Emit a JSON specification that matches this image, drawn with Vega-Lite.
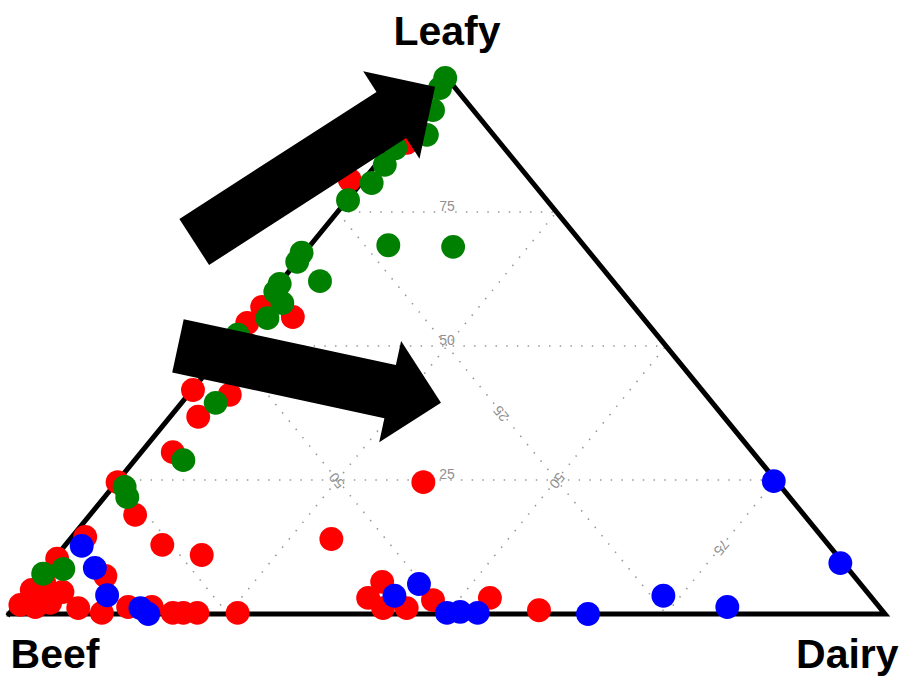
{
  "$schema": "https://vega.github.io/schema/vega-lite/v6.json",
  "width": 876,
  "height": 536,
  "autosize": {"type": "none"},
  "padding": {"left": 9, "top": 78, "right": 17, "bottom": 63},
  "background": "white",
  "config": {"view": {"stroke": null}},
  "datasets": {
    "grid": [
      {"x": 0.125, "y": 0.25, "x2": 0.875, "y2": 0.25},
      {"x": 0.25, "y": 0.5, "x2": 0.75, "y2": 0.5},
      {"x": 0.375, "y": 0.75, "x2": 0.625, "y2": 0.75},
      {"x": 0.375, "y": 0.75, "x2": 0.75, "y2": 0},
      {"x": 0.25, "y": 0.5, "x2": 0.5, "y2": 0},
      {"x": 0.125, "y": 0.25, "x2": 0.25, "y2": 0},
      {"x": 0.25, "y": 0, "x2": 0.625, "y2": 0.75},
      {"x": 0.5, "y": 0, "x2": 0.75, "y2": 0.5},
      {"x": 0.75, "y": 0, "x2": 0.875, "y2": 0.25}
    ],
    "leafyLabels": [
      {"label": "25", "x": 0.5, "y": 0.25},
      {"label": "50", "x": 0.5, "y": 0.5},
      {"label": "75", "x": 0.5, "y": 0.75}
    ],
    "beefLabels": [
      {"label": "25", "x": 0.5625, "y": 0.375},
      {"label": "50", "x": 0.375, "y": 0.25}
    ],
    "dairyLabels": [
      {"label": "25", "x": 0.4375, "y": 0.375},
      {"label": "50", "x": 0.625, "y": 0.25},
      {"label": "75", "x": 0.8125, "y": 0.125}
    ],
    "triangle": [
      {"i": 1, "x": 0, "y": 0},
      {"i": 2, "x": 1, "y": 0},
      {"i": 3, "x": 0.5, "y": 1},
      {"i": 4, "x": 0, "y": 0}
    ],
    "points": [
      {"group": "red", "x": 0.389, "y": 0.810},
      {"group": "red", "x": 0.454, "y": 0.879},
      {"group": "red", "x": 0.289, "y": 0.573},
      {"group": "red", "x": 0.324, "y": 0.554},
      {"group": "red", "x": 0.272, "y": 0.543},
      {"group": "red", "x": 0.210, "y": 0.418},
      {"group": "red", "x": 0.252, "y": 0.409},
      {"group": "red", "x": 0.216, "y": 0.368},
      {"group": "red", "x": 0.187, "y": 0.302},
      {"group": "red", "x": 0.124, "y": 0.246},
      {"group": "red", "x": 0.144, "y": 0.185},
      {"group": "red", "x": 0.175, "y": 0.129},
      {"group": "red", "x": 0.220, "y": 0.110},
      {"group": "red", "x": 0.087, "y": 0.144},
      {"group": "red", "x": 0.055, "y": 0.103},
      {"group": "red", "x": 0.110, "y": 0.071},
      {"group": "red", "x": 0.026, "y": 0.045},
      {"group": "red", "x": 0.013, "y": 0.017},
      {"group": "red", "x": 0.030, "y": 0.013},
      {"group": "red", "x": 0.047, "y": 0.021},
      {"group": "red", "x": 0.061, "y": 0.041},
      {"group": "red", "x": 0.040, "y": 0.060},
      {"group": "red", "x": 0.079, "y": 0.011},
      {"group": "red", "x": 0.106, "y": 0.002},
      {"group": "red", "x": 0.136, "y": 0.013},
      {"group": "red", "x": 0.163, "y": 0.013},
      {"group": "red", "x": 0.187, "y": 0.002},
      {"group": "red", "x": 0.199, "y": 0.002},
      {"group": "red", "x": 0.215, "y": 0.002},
      {"group": "red", "x": 0.261, "y": 0.002},
      {"group": "red", "x": 0.473, "y": 0.246},
      {"group": "red", "x": 0.368, "y": 0.140},
      {"group": "red", "x": 0.426, "y": 0.060},
      {"group": "red", "x": 0.410, "y": 0.030},
      {"group": "red", "x": 0.427, "y": 0.011},
      {"group": "red", "x": 0.454, "y": 0.011},
      {"group": "red", "x": 0.484, "y": 0.026},
      {"group": "red", "x": 0.549, "y": 0.030},
      {"group": "red", "x": 0.605, "y": 0.007},
      {"group": "blue", "x": 0.083, "y": 0.127},
      {"group": "blue", "x": 0.098, "y": 0.086},
      {"group": "blue", "x": 0.112, "y": 0.035},
      {"group": "blue", "x": 0.150, "y": 0.011},
      {"group": "blue", "x": 0.159, "y": 0.000},
      {"group": "blue", "x": 0.440, "y": 0.034},
      {"group": "blue", "x": 0.468, "y": 0.056},
      {"group": "blue", "x": 0.500, "y": 0.002},
      {"group": "blue", "x": 0.515, "y": 0.004},
      {"group": "blue", "x": 0.535, "y": 0.002},
      {"group": "blue", "x": 0.661, "y": 0.000},
      {"group": "blue", "x": 0.747, "y": 0.034},
      {"group": "blue", "x": 0.820, "y": 0.013},
      {"group": "blue", "x": 0.873, "y": 0.248},
      {"group": "blue", "x": 0.949, "y": 0.095},
      {"group": "green", "x": 0.498, "y": 1.000},
      {"group": "green", "x": 0.492, "y": 0.981},
      {"group": "green", "x": 0.484, "y": 0.940},
      {"group": "green", "x": 0.477, "y": 0.894},
      {"group": "green", "x": 0.441, "y": 0.869},
      {"group": "green", "x": 0.429, "y": 0.838},
      {"group": "green", "x": 0.414, "y": 0.804},
      {"group": "green", "x": 0.387, "y": 0.772},
      {"group": "green", "x": 0.433, "y": 0.688},
      {"group": "green", "x": 0.507, "y": 0.685},
      {"group": "green", "x": 0.334, "y": 0.674},
      {"group": "green", "x": 0.329, "y": 0.657},
      {"group": "green", "x": 0.355, "y": 0.621},
      {"group": "green", "x": 0.309, "y": 0.616},
      {"group": "green", "x": 0.304, "y": 0.601},
      {"group": "green", "x": 0.312, "y": 0.580},
      {"group": "green", "x": 0.295, "y": 0.552},
      {"group": "green", "x": 0.261, "y": 0.521},
      {"group": "green", "x": 0.236, "y": 0.394},
      {"group": "green", "x": 0.199, "y": 0.287},
      {"group": "green", "x": 0.132, "y": 0.237},
      {"group": "green", "x": 0.135, "y": 0.218},
      {"group": "green", "x": 0.039, "y": 0.075},
      {"group": "green", "x": 0.062, "y": 0.084}
    ],
    "titles": [
      {"label": "Leafy", "x": 0.5, "y": 1.0616},
      {"label": "Beef", "x": 0.0525, "y": -0.1007},
      {"label": "Dairy", "x": 0.957, "y": -0.1007}
    ]
  },
  "encoding": {
    "x": {"field": "x", "type": "quantitative", "scale": {"domain": [0, 1], "nice": false, "zero": false}, "axis": null},
    "y": {"field": "y", "type": "quantitative", "scale": {"domain": [0, 1], "nice": false, "zero": false}, "axis": null}
  },
  "layer": [
    {
      "data": {"name": "grid"},
      "mark": {"type": "rule", "color": "#999999", "strokeWidth": 1.6, "strokeDash": [1.5, 9.2]},
      "encoding": {"x2": {"field": "x2"}, "y2": {"field": "y2"}}
    },
    {
      "data": {"name": "leafyLabels"},
      "mark": {"type": "text", "font": "Liberation Sans", "fontSize": 14, "color": "#909090", "align": "center", "baseline": "alphabetic", "dy": -1},
      "encoding": {"text": {"field": "label"}}
    },
    {
      "data": {"name": "beefLabels"},
      "mark": {"type": "text", "font": "Liberation Sans", "fontSize": 14, "color": "#909090", "align": "center", "baseline": "middle", "angle": 230.7},
      "encoding": {"text": {"field": "label"}}
    },
    {
      "data": {"name": "dairyLabels"},
      "mark": {"type": "text", "font": "Liberation Sans", "fontSize": 14, "color": "#909090", "align": "center", "baseline": "middle", "angle": 129.3},
      "encoding": {"text": {"field": "label"}}
    },
    {
      "data": {"name": "triangle"},
      "mark": {"type": "line", "color": "black", "strokeWidth": 5, "strokeJoin": "miter", "strokeCap": "square"},
      "encoding": {"order": {"field": "i", "type": "quantitative"}}
    },
    {
      "data": {"name": "points"},
      "mark": {"type": "circle", "size": 570, "opacity": 1},
      "encoding": {
        "color": {"field": "group", "type": "nominal", "scale": {"domain": ["red", "blue", "green"], "range": ["#ff0000", "#0000ff", "#008000"]}, "legend": null}
      }
    },
    {
      "data": {"values": [{"x": 0.3489, "y": 0.8389}]},
      "mark": {"type": "point", "filled": true, "opacity": 1, "color": "black", "strokeWidth": 0, "size": 40000, "angle": -32.8, "shape": "M-1.4325,-0.274 L0.9125,-0.274 L0.9125,-0.52 L1.4325,0 L0.9125,0.52 L0.9125,0.274 L-1.4325,0.274 Z"}
    },
    {
      "data": {"values": [{"x": 0.3430, "y": 0.4473}]},
      "mark": {"type": "point", "filled": true, "opacity": 1, "color": "black", "strokeWidth": 0, "size": 40000, "angle": 12.2, "shape": "M-1.3455,-0.272 L0.8255,-0.272 L0.8255,-0.518 L1.3455,0 L0.8255,0.518 L0.8255,0.272 L-1.3455,0.272 Z"}
    },
    {
      "data": {"name": "titles"},
      "mark": {"type": "text", "font": "Liberation Sans", "fontWeight": "bold", "fontSize": 41, "color": "black", "align": "center", "baseline": "alphabetic"},
      "encoding": {"text": {"field": "label"}}
    }
  ]
}
